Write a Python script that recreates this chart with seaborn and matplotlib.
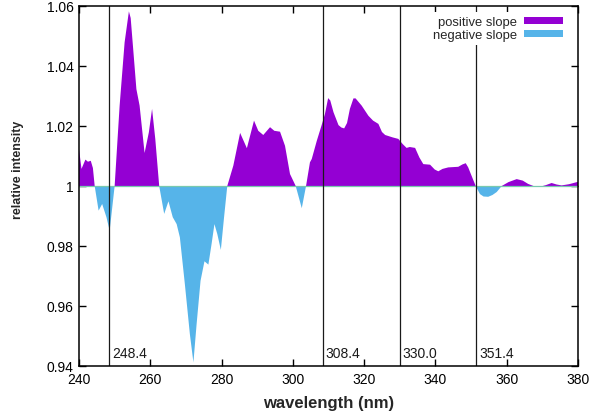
import numpy as np
import pandas as pd
import matplotlib
matplotlib.use("Agg")
import matplotlib.pyplot as plt
from matplotlib.patches import Patch
import seaborn as sns

# ---- data ----
wavelength = [240, 240.7, 241.8, 242.5, 243.3, 243.9, 244.4, 245.5, 246.5, 247.7, 248.6,
              250.0, 251.4, 252.8, 254.0, 254.5, 255.2, 256.1, 257.0, 258.4, 259.6, 260.5,
              261.4, 262.5, 263.9, 265.1, 266.3, 267.4, 268.3, 269.7, 271.1, 272.1,
              273.0, 274.1, 275.2, 276.3, 277.2, 278.0, 278.8, 279.8, 280.7, 281.6,
              283.3, 285.2, 287.1, 289.1, 290.3, 291.7, 293.6, 294.8, 296.4, 297.8,
              299.2, 300.8, 302.5, 303.7, 304.8, 305.3, 306.7, 308.0, 309.0, 309.9, 310.5,
              311.4, 312.8, 313.6, 314.4, 315.2, 316.0, 317.0, 317.6, 319.3, 321.2, 322.5,
              324.0, 325.0, 325.9, 328.0, 329.6, 330.8, 331.9, 332.8, 334.3, 335.5,
              336.6, 338.5, 339.8, 340.8, 342.0, 343.6, 346.4, 347.6, 348.5, 349.2, 349.7,
              351.3, 352.5, 353.5, 354.8, 356.0, 357.2, 358.6, 360.5, 362.8, 364.5, 366.0,
              367.5, 369.5, 371.0, 372.6, 374.0, 375.4, 377.5, 380]
intensity = [1.0123, 1.0057, 1.0088, 1.0081, 1.0084, 1.0060, 1.0, 0.9918, 0.994, 0.9896, 0.9851,
             1.0, 1.0268, 1.0479, 1.0582, 1.0560, 1.0457, 1.0323, 1.0268, 1.011, 1.0179, 1.0257,
             1.0157, 1.0, 0.9907, 0.9949, 0.9896, 0.9873, 0.9829, 0.9673, 0.9507, 0.9412,
             0.954, 0.9684, 0.9749, 0.9738, 0.9807, 0.9873, 0.984, 0.9787, 0.9896, 1.0,
             1.0068, 1.0177, 1.0126, 1.0218, 1.0184, 1.017, 1.0196, 1.0184, 1.0181, 1.0134,
             1.004, 1.0, 0.9926, 1.0, 1.0079, 1.009, 1.0150, 1.0200, 1.0240, 1.0293, 1.0285,
             1.0246, 1.0203, 1.0195, 1.0192, 1.0210, 1.0257, 1.0292, 1.0292, 1.0268, 1.0234, 1.0218,
             1.0207, 1.0180, 1.0170, 1.0162, 1.0157, 1.0140, 1.0127, 1.0130, 1.0127, 1.0095,
             1.0073, 1.0071, 1.0055, 1.0049, 1.0057, 1.0062, 1.0064, 1.0072, 1.0076, 1.0062, 1.0047,
             1.0, 0.9973, 0.9965, 0.9964, 0.9970, 0.9980, 1.0, 1.0013, 1.0023, 1.0018, 1.0007,
             1.0, 0.9998, 1.0003, 1.0010, 1.0005, 1.0002, 1.0006, 1.0014]
marker_lines = [248.4, 308.4, 330.0, 351.4]
marker_labels = ["248.4", "308.4", "330.0", "351.4"]
x_ticks = [240, 260, 280, 300, 320, 340, 360, 380]
y_ticks = [0.94, 0.96, 0.98, 1.0, 1.02, 1.04, 1.06]
y_tick_labels = ["0.94", "0.96", "0.98", "1", "1.02", "1.04", "1.06"]
series_labels = ["positive slope", "negative slope"]

purple = "#9400D3"
blue = "#56B4E9"

sns.set_style("ticks")
plt.rcParams["font.family"] = ["Liberation Sans", "DejaVu Sans"]

df = pd.DataFrame({"wavelength": wavelength, "intensity": intensity})

fig = plt.figure(figsize=(6.01, 4.14), dpi=100)
ax = fig.add_axes([79 / 601, 1 - 367 / 414, 499 / 601, 360 / 414])

sns.lineplot(data=df, x="wavelength", y="intensity", ax=ax, linewidth=0, color=purple)
x = df["wavelength"].to_numpy()
y = df["intensity"].to_numpy()
ax.fill_between(x, y, 1.0, where=y >= 1.0, interpolate=True, color=purple, linewidth=0, zorder=2)
ax.fill_between(x, y, 1.0, where=y <= 1.0, interpolate=True, color=blue, linewidth=0, zorder=2)
ax.axhline(1.0, color="#78c9ae", linewidth=0.9, zorder=2.5)

for v, lab in zip(marker_lines, marker_labels):
    ax.axvline(v, color="#1a1a1a", linewidth=0.9, zorder=3)
    ax.annotate(lab, xy=(v, 0.9443), xytext=(2.2, 0), textcoords="offset points",
                ha="left", va="center", fontsize=10, color="#1a1a1a", zorder=4)

ax.set_xlim(240, 380)
ax.set_ylim(0.94, 1.06)
ax.set_xticks(x_ticks)
ax.set_xticklabels([str(t) for t in x_ticks])
ax.set_yticks(y_ticks)
ax.set_yticklabels(y_tick_labels)
ax.tick_params(direction="in", length=5, width=1, top=True, right=True,
               labelsize=10, colors="black", pad=4)
for s in ax.spines.values():
    s.set_visible(True)
    s.set_linewidth(1.1)
    s.set_color("black")
    s.set_zorder(5)

ax.set_xlabel("")
ax.set_ylabel("")
fig.text(328.5 / 601, 1 - 404 / 414, "wavelength (nm)", fontsize=12, fontweight="bold",
         ha="center", va="center")
fig.text(18 / 601, 1 - 170 / 414, "relative intensity", fontsize=8.9, fontweight="bold",
         ha="center", va="center", rotation=90)

handles = [Patch(facecolor=purple, edgecolor="none"), Patch(facecolor=blue, edgecolor="none")]
leg = ax.legend(handles, series_labels, loc="upper right", bbox_to_anchor=(0.977, 0.982),
                markerfirst=False, frameon=True, fancybox=False, framealpha=1,
                facecolor="white", edgecolor="none", fontsize=9.4,
                handlelength=2.94, handleheight=0.46, borderpad=0.3,
                labelspacing=0.04, handletextpad=0.55, borderaxespad=0)
leg.set_zorder(6)

fig.savefig("out.png", dpi=100)
